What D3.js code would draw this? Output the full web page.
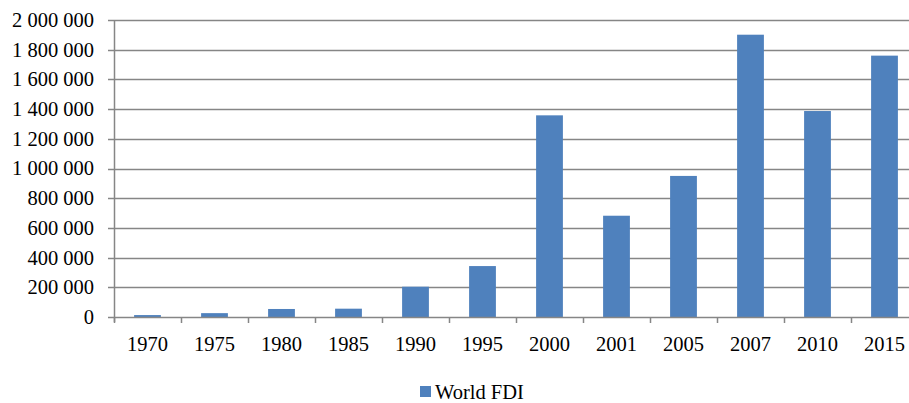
<!DOCTYPE html>
<html>
<head>
<meta charset="utf-8">
<script src="https://cdn.jsdelivr.net/npm/d3@7"></script>
<style>
html,body{margin:0;padding:0;background:#fff;}
svg{display:block;}
</style>
</head>
<body>
<svg id="chart" width="909" height="403"></svg>
<script>
const categories = ["1970","1975","1980","1985","1990","1995","2000","2001","2005","2007","2010","2015"];
const worldFDI = [13000, 26000, 54000, 56000, 204000, 343000, 1358000, 682000, 950000, 1901000, 1387000, 1760000];
const yTicks = [0, 200000, 400000, 600000, 800000, 1000000, 1200000, 1400000, 1600000, 1800000, 2000000];
const seriesName = "World FDI";

(function () {
const svg = d3.select("#chart")
  .attr("font-family", "'Liberation Serif'");
const mLeft = 114, mRight = 918, mTop = 20, mBottom = 317;
const fontSize = 20.5;
const gridColor = "#868686";

const x = d3.scaleBand().domain(categories).range([mLeft, mRight]).paddingInner(0.6).paddingOuter(0.3);
const xCat = d3.scaleBand().domain(categories).range([mLeft, mRight]).padding(0);
const y = d3.scaleLinear().domain([0, 2000000]).range([mBottom, mTop]);

const loc = d3.formatLocale({decimal: ",", thousands: " ", grouping: [3], currency: ["", ""]});
const fmt = loc.format(",d");

// gridlines
svg.append("g").selectAll("line").data(yTicks.filter(d => d > 0)).join("line")
  .attr("x1", mLeft).attr("x2", mRight)
  .attr("y1", d => Math.round(y(d)) + 0.5).attr("y2", d => Math.round(y(d)) + 0.5)
  .attr("stroke", gridColor).attr("stroke-width", 1.5);

// bars
svg.append("g").selectAll("rect").data(worldFDI).join("rect")
  .attr("x", (d, i) => x(categories[i]))
  .attr("width", x.bandwidth())
  .attr("y", d => y(d))
  .attr("height", d => y(0) - y(d))
  .attr("fill", "#4F81BD");

// y axis
const gy = svg.append("g");
gy.append("line").attr("x1", mLeft + 0.5).attr("x2", mLeft + 0.5).attr("y1", mTop).attr("y2", mBottom + 5)
  .attr("stroke", gridColor).attr("stroke-width", 1.5);
gy.selectAll("line.tick").data(yTicks).join("line").attr("class", "tick")
  .attr("x1", mLeft - 6).attr("x2", mLeft)
  .attr("y1", d => Math.round(y(d)) + 0.5).attr("y2", d => Math.round(y(d)) + 0.5)
  .attr("stroke", gridColor).attr("stroke-width", 1.5);
gy.selectAll("text").data(yTicks).join("text")
  .attr("x", 94).attr("y", d => y(d))
  .attr("dy", "0.34em")
  .attr("text-anchor", "end")
  .attr("font-size", fontSize)
  .attr("fill", "#000")
  .text(d => fmt(d));

// x axis
const gx = svg.append("g");
gx.append("line").attr("x1", mLeft).attr("x2", mRight)
  .attr("y1", Math.round(y(0)) + 0.5).attr("y2", Math.round(y(0)) + 0.5)
  .attr("stroke", gridColor).attr("stroke-width", 1.5);
const bounds = categories.map(c => xCat(c)).concat([mRight]);
gx.selectAll("line.tick").data(bounds).join("line").attr("class", "tick")
  .attr("x1", d => Math.round(d) + 0.5).attr("x2", d => Math.round(d) + 0.5)
  .attr("y1", mBottom).attr("y2", mBottom + 6)
  .attr("stroke", gridColor).attr("stroke-width", 1.5);
gx.selectAll("text").data(categories).join("text")
  .attr("x", d => xCat(d) + xCat.bandwidth() / 2)
  .attr("y", 351)
  .attr("text-anchor", "middle")
  .attr("font-size", fontSize)
  .attr("fill", "#000")
  .text(d => d);

// legend
const lg = svg.append("g");
lg.append("rect").attr("x", 420).attr("y", 386).attr("width", 11).attr("height", 11).attr("fill", "#4F81BD");
lg.append("text").attr("x", 435).attr("y", 399).attr("font-size", fontSize).attr("fill", "#000").text(seriesName);
})();
</script>
</body>
</html>
